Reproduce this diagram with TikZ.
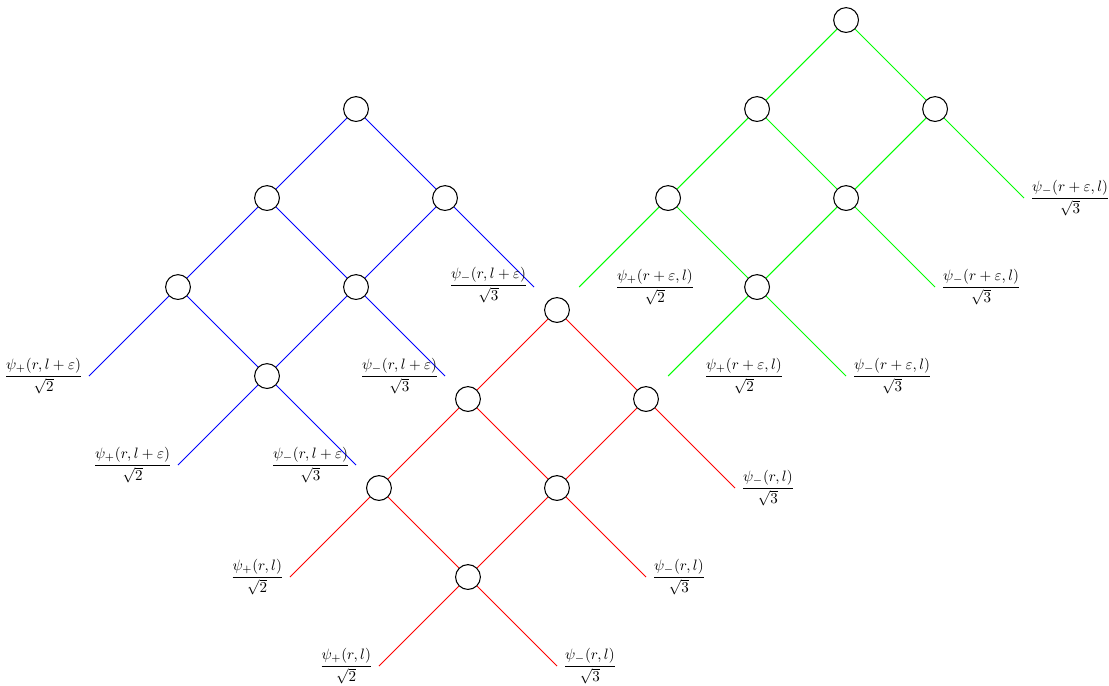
\documentclass[tikz,border=0pt]{standalone}
\usepackage{tikz}
\usetikzlibrary{positioning}
\newcommand{\wave}[3]{$\displaystyle\frac{\psi_{#1}(#2)}{\sqrt{#3}}$}
\tikzset{
  site/.style={draw=black, circle, fill=white, minimum size=5.8mm, inner sep=0pt, line width=0.7pt},
  leaf/.style={inner sep=0.4em},
  bluebond/.style={draw=blue, semithick},
  redbond/.style={draw=red, semithick},
  greenbond/.style={draw=green, semithick}
}

\begin{document}
\begin{tikzpicture}[x=2.08cm, y=2.08cm]
  \useasboundingbox (0,0) rectangle (12.46,-7.70);

  % blue lattice
  \begin{scope}[shift={(2,-1.225)}]
    \node[site] (b0) at (2,0) {};
    \node[site] (b1) at (1,-1) {};
    \node[site] (b2) at (3,-1) {};
    \node[site] (b3) at (0,-2) {};
    \node[site] (b4) at (2,-2) {};
    \node[site] (b5) at (1,-3) {};
    \coordinate (bA) at (-1,-3);
    \coordinate (bB) at (0,-4);
    \coordinate (bC) at (2,-4);
    \coordinate (bD) at (3,-3);
    \coordinate (bE) at (4,-2);
  \end{scope}
  \draw[bluebond] (b0) -- (b1);
  \draw[bluebond] (b0) -- (b2);
  \draw[bluebond] (b1) -- (b3);
  \draw[bluebond] (b1) -- (b4);
  \draw[bluebond] (b2) -- (b4);
  \draw[bluebond] (b3) -- (b5);
  \draw[bluebond] (b4) -- (b5);
  \draw[bluebond] (b3) -- (bA);
  \draw[bluebond] (b5) -- (bB);
  \draw[bluebond] (b5) -- (bC);
  \draw[bluebond] (b4) -- (bD);
  \draw[bluebond] (b2) -- (bE);
  \node[leaf, left=0pt of bA] (bla) {\wave{+}{r,l+\varepsilon}{2}};
  \node[leaf, left=0pt of bB] (blb) {\wave{+}{r,l+\varepsilon}{2}};
  \node[leaf, left=0pt of bC] (blc) {\wave{-}{r,l+\varepsilon}{3}};
  \node[leaf, left=0pt of bD] (bld) {\wave{-}{r,l+\varepsilon}{3}};
  \node[leaf, left=0pt of bE, yshift=0.5mm] (ble) {\wave{-}{r,l+\varepsilon}{3}};

  % red lattice
  \begin{scope}[shift={(4.258,-3.483)}]
    \node[site] (r0) at (2,0) {};
    \node[site] (r1) at (1,-1) {};
    \node[site] (r2) at (3,-1) {};
    \node[site] (r3) at (0,-2) {};
    \node[site] (r4) at (2,-2) {};
    \node[site] (r5) at (1,-3) {};
    \coordinate (rA) at (-1,-3);
    \coordinate (rB) at (0,-4);
    \coordinate (rC) at (2,-4);
    \coordinate (rD) at (3,-3);
    \coordinate (rE) at (4,-2);
  \end{scope}
  \draw[redbond] (r0) -- (r1);
  \draw[redbond] (r0) -- (r2);
  \draw[redbond] (r1) -- (r3);
  \draw[redbond] (r1) -- (r4);
  \draw[redbond] (r2) -- (r4);
  \draw[redbond] (r3) -- (r5);
  \draw[redbond] (r4) -- (r5);
  \draw[redbond] (r3) -- (rA);
  \draw[redbond] (r5) -- (rB);
  \draw[redbond] (r5) -- (rC);
  \draw[redbond] (r4) -- (rD);
  \draw[redbond] (r2) -- (rE);
  \node[leaf, left=0pt of rA] (rla) {\wave{+}{r,l}{2}};
  \node[leaf, left=0pt of rB] (rlb) {\wave{+}{r,l}{2}};
  \node[leaf, right=0pt of rC] (rlc) {\wave{-}{r,l}{3}};
  \node[leaf, right=0pt of rD] (rld) {\wave{-}{r,l}{3}};
  \node[leaf, right=0pt of rE] (rle) {\wave{-}{r,l}{3}};

  % green lattice
  \begin{scope}[shift={(7.506,-0.225)}]
    \node[site] (g0) at (2,0) {};
    \node[site] (g1) at (1,-1) {};
    \node[site] (g2) at (3,-1) {};
    \node[site] (g3) at (0,-2) {};
    \node[site] (g4) at (2,-2) {};
    \node[site] (g5) at (1,-3) {};
    \coordinate (gA) at (-1,-3);
    \coordinate (gB) at (0,-4);
    \coordinate (gC) at (2,-4);
    \coordinate (gD) at (3,-3);
    \coordinate (gE) at (4,-2);
  \end{scope}
  \draw[greenbond] (g0) -- (g1);
  \draw[greenbond] (g0) -- (g2);
  \draw[greenbond] (g1) -- (g3);
  \draw[greenbond] (g1) -- (g4);
  \draw[greenbond] (g2) -- (g4);
  \draw[greenbond] (g3) -- (g5);
  \draw[greenbond] (g4) -- (g5);
  \draw[greenbond] (g3) -- (gA);
  \draw[greenbond] (g5) -- (gB);
  \draw[greenbond] (g5) -- (gC);
  \draw[greenbond] (g4) -- (gD);
  \draw[greenbond] (g2) -- (gE);
  \node[leaf, right=7mm of gA] (gla) {\wave{+}{r+\varepsilon,l}{2}};
  \node[leaf, right=7mm of gB] (glb) {\wave{+}{r+\varepsilon,l}{2}};
  \node[leaf, right=0pt of gC] (glc) {\wave{-}{r+\varepsilon,l}{3}};
  \node[leaf, right=0pt of gD] (gld) {\wave{-}{r+\varepsilon,l}{3}};
  \node[leaf, right=0pt of gE] (gle) {\wave{-}{r+\varepsilon,l}{3}};
\end{tikzpicture}
\end{document}
